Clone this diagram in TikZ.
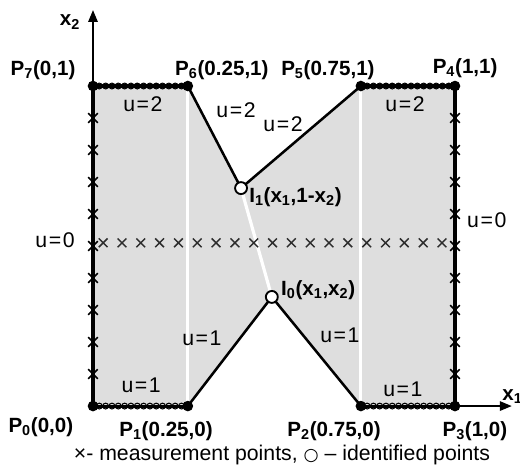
\documentclass[tikz,border=0pt]{standalone}
\usepackage{fontspec}
\setmainfont{Liberation Sans}
\newfontfamily\symbfont{DejaVu Sans}
\usepackage{tikz}
\usetikzlibrary{arrows.meta,calc,shapes.misc}
\definecolor{regiongray}{RGB}{222,222,222}
\definecolor{markgray}{RGB}{45,45,45}
\newcommand{\Plab}[2]{P\textsubscript{#1}(#2)}
\newcommand{\Xsub}[1]{x\textsubscript{#1}}
\newcommand{\ueq}[1]{u\kern1.2pt=\kern1.2pt#1}

\begin{document}
\begin{tikzpicture}[x=9.58cm, y=8.47cm,
  every node/.style={inner sep=0pt},
  plab/.style={font=\fontsize{15.5}{18}\selectfont\bfseries},
  ulab/.style={font=\fontsize{16}{18}\selectfont},
  bnd/.style={line width=2.3pt},
  link/.style={line width=1.9pt},
  cut/.style={white, line width=2.4pt},
  axis/.style={line width=1.5pt, -{Triangle[length=9pt,width=7pt]}},
  vertex/.style={circle, fill=black, minimum size=8pt},
  ident/.style={circle, draw=black, fill=white, line width=1.4pt, minimum size=9pt},
  edgemark/.style={cross out, draw=black, line width=1.2pt, minimum size=6pt},
  rowmark/.style={cross out, draw=markgray, line width=1.1pt, minimum size=5.5pt},
  ring/.style={circle, draw=black, line width=0.8pt, minimum size=4.4pt}]
\useasboundingbox (-0.2569,-0.2031) rectangle (1.1796,1.26875);

% corner and identified points
\coordinate (P0) at (0,0);
\coordinate (P1) at (0.262,0);
\coordinate (P2) at (0.740,0);
\coordinate (P3) at (1,0);
\coordinate (P4) at (1,1);
\coordinate (P5) at (0.740,1);
\coordinate (P6) at (0.262,1);
\coordinate (P7) at (0,1);
\coordinate (I1) at (0.409,0.681);
\coordinate (I0) at (0.494,0.341);
\coordinate (x2tip) at (0,1.2375);
\coordinate (x1tip) at (1.157,0);

% shaded domain
\fill[regiongray] (P0) -- (P1) -- (I0) -- (P2) -- (P3) -- (P4) -- (P5)
  -- (I1) -- (P6) -- (P7) -- cycle;
\draw[cut] (P1) -- (P6);
\draw[cut] (P2) -- (P5);
\draw[cut] (I1) -- (I0);

% axes
\draw[axis] (P0) -- (x2tip);
\draw[axis] (P3) -- (x1tip);

% boundary
\draw[bnd] (P1) -- (P0) -- (P7) -- (P6);
\draw[bnd] (P5) -- (P4) -- (P3) -- (P2);
\draw[link] (P6) -- (I1) -- (P5);
\draw[link] (P1) -- (I0) -- (P2);

% measurement points
\foreach \k in {1,...,9} {
  \node[edgemark] (ml\k) at (0,\k/10) {};
  \node[edgemark] (mr\k) at (1,\k/10) {};
}
\foreach \k in {0,...,18}
  \node[rowmark] (mc\k) at (0.028+\k*0.052,0.51) {};
\foreach \a/\b in {P7/P6,P5/P4,P0/P1,P2/P3}
  \foreach \k in {1,...,14}
    \node[ring] (r\a\k) at ($(\a)!\k/15!(\b)$) {};

\foreach \p in {P0,P1,P2,P3,P4,P5,P6,P7}
  \node[vertex] (v\p) at (\p) {};
\node[ident] (i1) at (I1) {};
\node[ident] (i0) at (I0) {};

% labels
\node[plab] (lx2) at (-0.0635,1.20) {\Xsub{2}};
\node[plab, anchor=west] (lx1) at (1.130,0.03) {\Xsub{1}};
\node[plab] (l7) at (-0.138,1.05) {\Plab{7}{0,1}};
\node[plab] (l6) at (0.356,1.05) {\Plab{6}{0.25,1}};
\node[plab] (l5) at (0.649,1.05) {\Plab{5}{0.75,1}};
\node[plab] (l4) at (1.028,1.056) {\Plab{4}{1,1}};
\node[plab] (l0) at (-0.144,-0.066) {\Plab{0}{0,0}};
\node[plab] (l1) at (0.2017,-0.078) {\Plab{1}{0.25,0}};
\node[plab] (l2) at (0.666,-0.078) {\Plab{2}{0.75,0}};
\node[plab] (l3) at (1.055,-0.078) {\Plab{3}{1,0}};
\node[plab, anchor=west] (li1) at (0.431,0.653)
  {I\textsubscript{1}(\Xsub{1},1-\Xsub{2})};
\node[plab, anchor=west] (li0) at (0.519,0.3625)
  {I\textsubscript{0}(\Xsub{1},\Xsub{2})};

\node[ulab] (u2a) at (0.138,0.944) {\ueq{2}};
\node[ulab] (u2b) at (0.395,0.925) {\ueq{2}};
\node[ulab] (u2c) at (0.525,0.881) {\ueq{2}};
\node[ulab] (u2d) at (0.862,0.944) {\ueq{2}};
\node[ulab] (u0a) at (-0.105,0.519) {\ueq{0}};
\node[ulab] (u0b) at (1.088,0.581) {\ueq{0}};
\node[ulab] (u1a) at (0.301,0.2125) {\ueq{1}};
\node[ulab] (u1b) at (0.682,0.222) {\ueq{1}};
\node[ulab] (u1c) at (0.133,0.066) {\ueq{1}};
\node[ulab] (u1d) at (0.856,0.053) {\ueq{1}};

\node[ulab] (cap) at (0.522,-0.153)
  {×- measurement points, {\symbfont\fontsize{13}{14}\selectfont ○} – identified points};
\end{tikzpicture}
\end{document}
